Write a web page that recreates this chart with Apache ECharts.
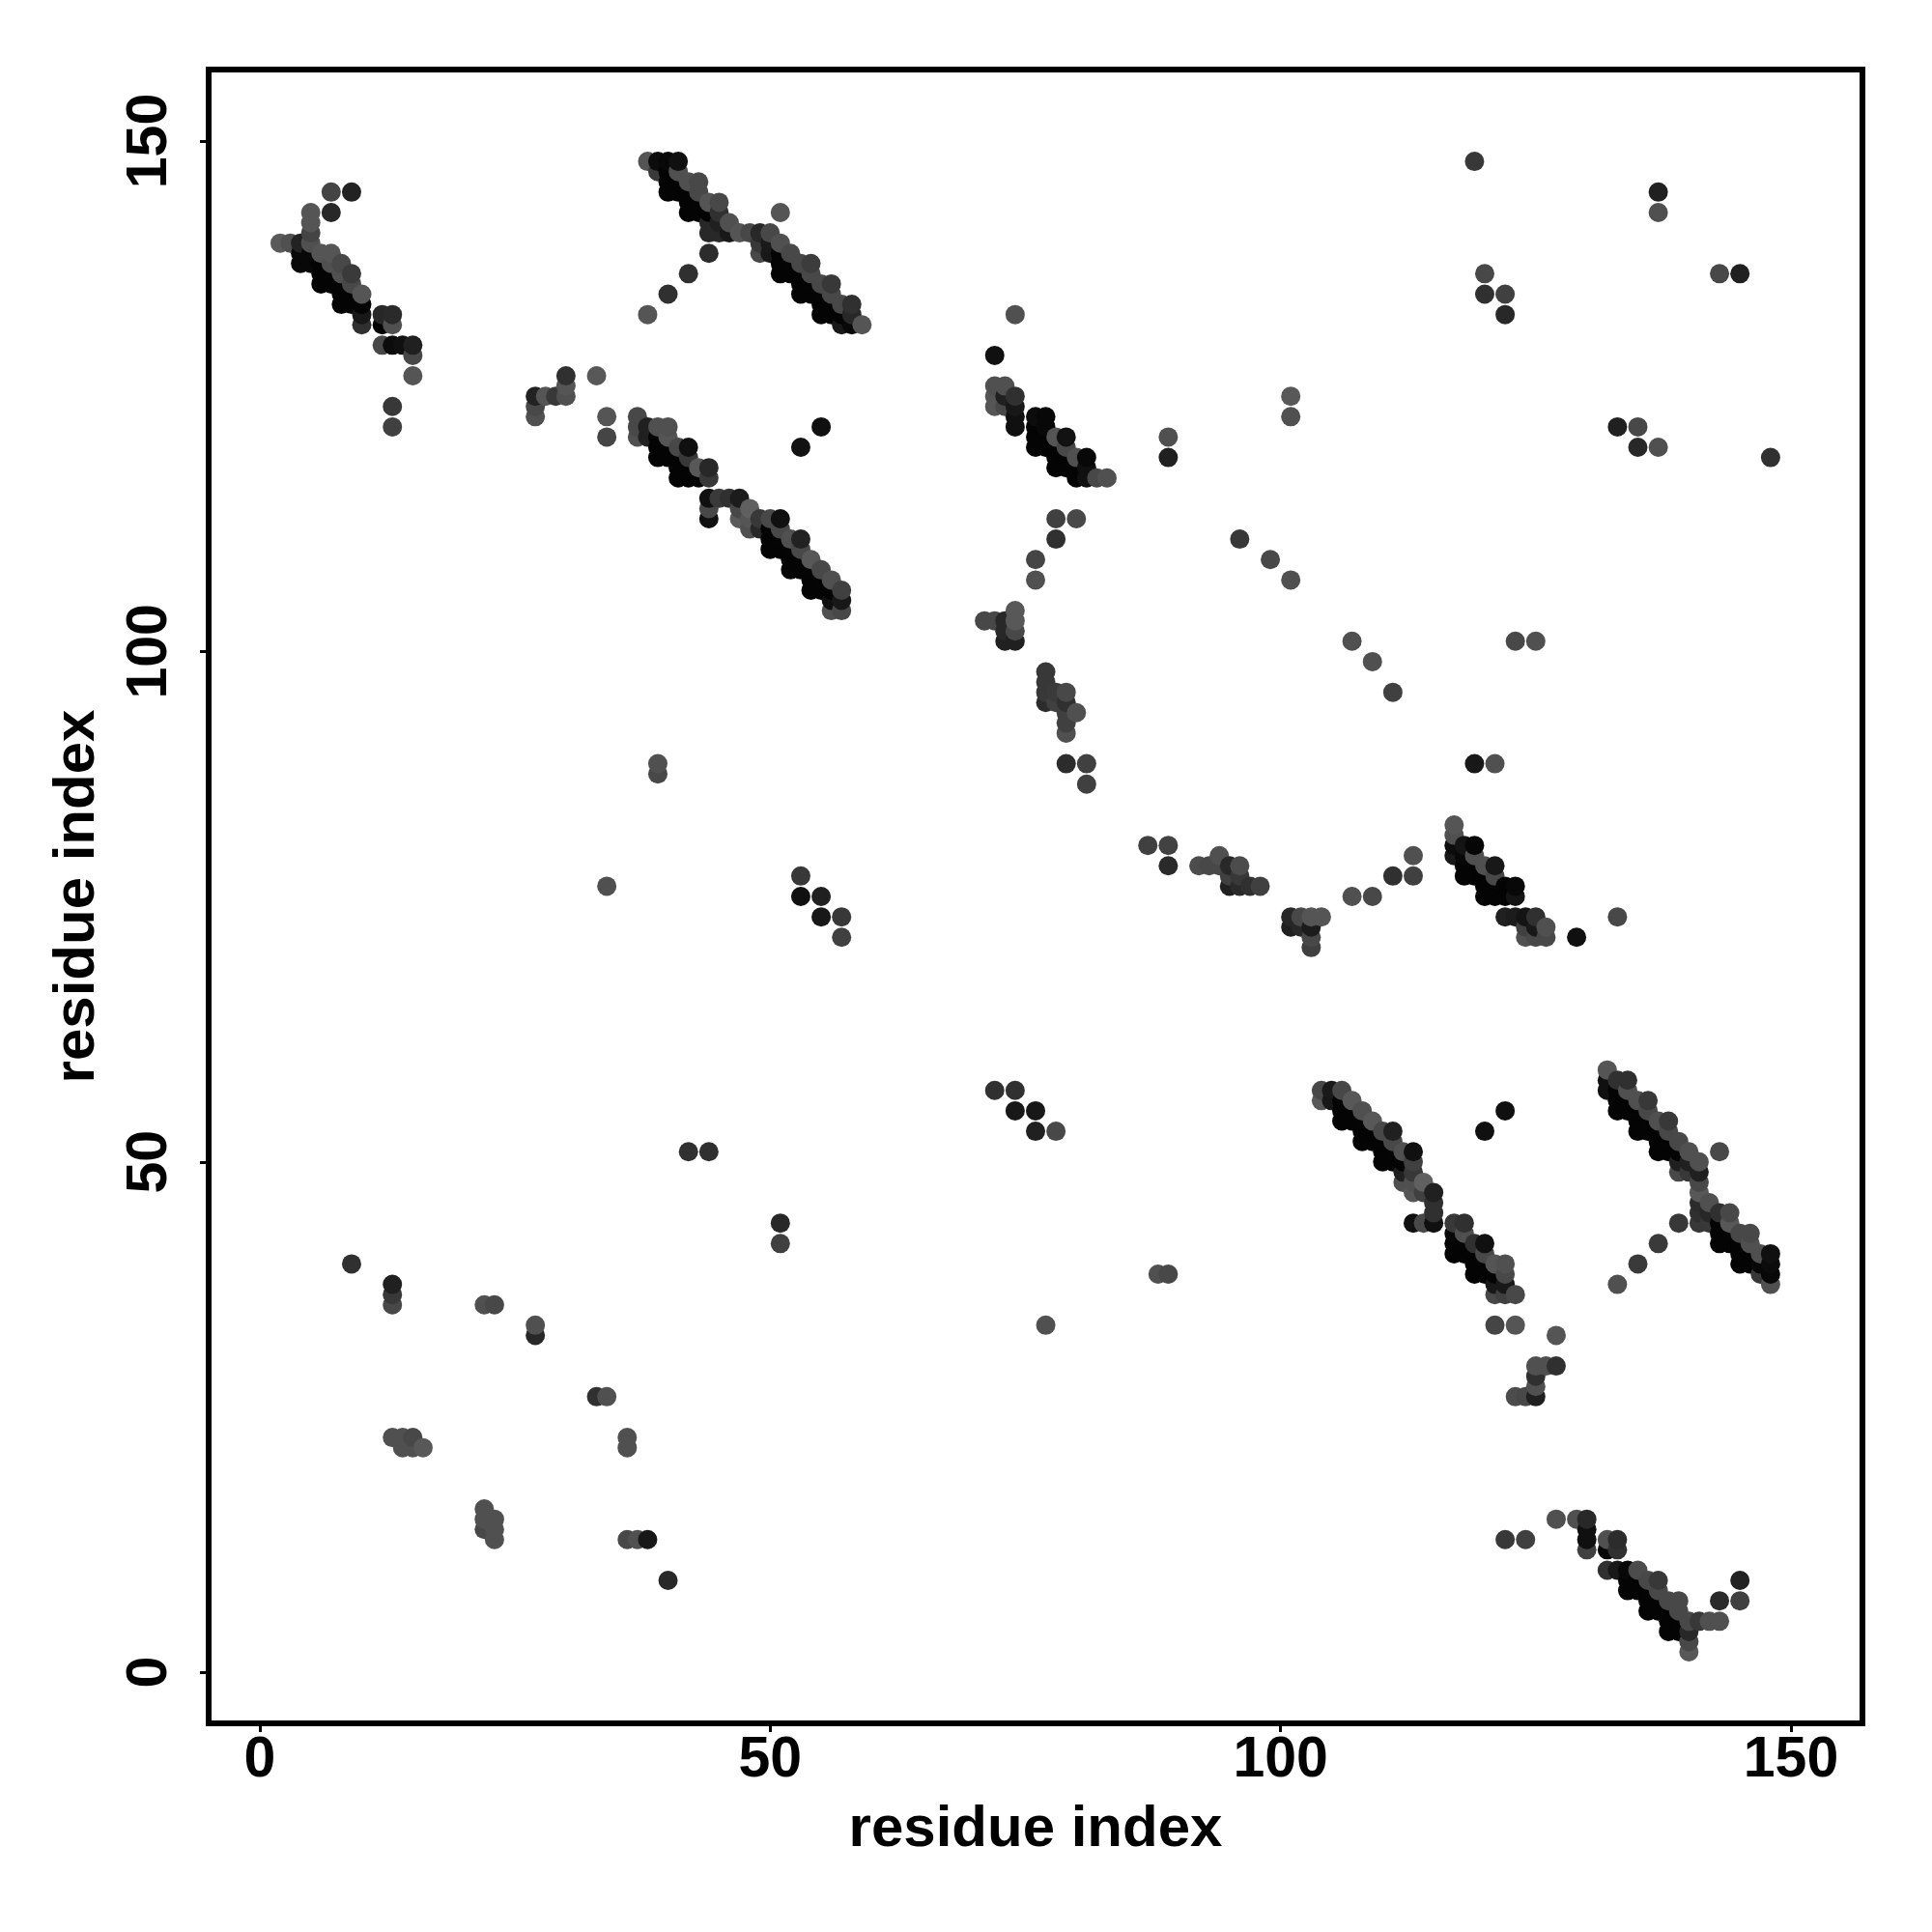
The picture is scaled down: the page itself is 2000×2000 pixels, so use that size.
<!DOCTYPE html>
<html><head><meta charset="utf-8">
<style>html,body{margin:0;padding:0;background:#fff}#c{width:2000px;height:2000px}</style>
<script src="https://cdn.jsdelivr.net/npm/echarts@6/dist/echarts.min.js"></script>
</head><body><div id="c"></div>
<script>
// contacts as [residue i, residue j, grey level]
const tickValues = [0, 50, 100, 150];
const axisTitle = 'residue index';
const bandTopLeft = [
[7,145,0x44],[9,145,0x22],[7,143,0x28],[5,143,0x55],[5,142,0x55],[5,141,0x44],[2,140,0x5a],[3,140,0x50],[4,140,0x22],[5,140,0x50],
[4,139,8],[4,138,8],[5,139,8],[5,138,8],[6,139,0x55],[7,139,0x55],[6,138,4],[6,137,4],[6,136,4],[7,138,0x50],[7,137,4],[8,138,0x48],[8,137,0x50],[9,137,0x3a],[9,136,0x48],[10,135,0x55],
[7,136,4],[8,136,4],[8,135,4],[8,134,4],[9,135,4],[9,134,4],[10,134,4],[10,133,0x18],[10,132,0x30],[12,133,0x28],[13,133,0x2a],[12,132,4],[13,132,0x50],
[12,130,0x48],[13,130,0x0c],[14,130,0x10],[15,130,0x20],[15,129,0x48],[15,127,0x55],[13,124,0x38],[13,122,0x40]
];
const bandMidLeft = [
[27,125,0x22],[27,124,0x48],[27,123,0x50],[28,125,0x55],[29,125,0x38],[30,125,0x50],[30,126,0x55],[30,127,0x30],[33,127,0x58],[34,123,0x55],[34,121,0x45],
[37,123,0x48],[37,122,0x48],[37,121,0x50],[38,122,0x20],[38,121,0x20],[39,122,0x50],[40,122,0x50],[39,121,4],[39,120,4],[39,119,4],[40,121,0x55],[40,120,4],[40,119,4],
[41,120,0x48],[42,120,0x10],[41,119,4],[41,118,4],[41,117,4],[42,119,0x38],[42,118,4],[42,117,4],[43,118,0x58],[44,118,0x28],[43,117,4],[44,117,0x38],
[44,115,0x10],[44,114,0x48],[44,113,0x10],[45,115,0x3a],[46,115,0x30],[47,115,0x1c],[47,114,0x48],[47,113,0x5a],[48,114,0x60],[48,113,0x55],[48,112,0x50],[49,113,0x38],[49,112,0x28],
[50,113,0x48],[50,112,4],[50,111,4],[50,110,4],[51,113,0x10],[51,112,0x48],[51,111,4],[51,110,4],[52,111,0x50],[53,111,0x22],[52,110,4],[52,109,4],[52,108,4],[53,110,0x48],[53,109,4],[53,108,4],
[54,109,0x58],[55,108,0x48],[54,108,4],[54,107,4],[54,106,4],[55,107,4],[55,106,4],[56,107,0x50],[57,106,0x40],[56,106,4],[56,105,0x10],[57,105,0x18],[56,104,0x50],[57,104,0x48],[55,122,0x10],[53,120,0x12]
];
const bandTopMid = [
[38,148,0x55],[39,148,0x0c],[40,148,8],[41,148,0x10],[39,147,0x3a],[40,147,4],[41,147,0x50],[40,146,4],[40,145,4],[41,146,4],[41,145,4],[42,146,0x50],[43,146,0x48],[42,145,4],[43,145,0x48],
[42,144,4],[42,143,4],[43,144,4],[43,143,4],[44,144,0x55],[45,144,0x48],[44,143,4],[45,143,0x30],[46,142,0x50],[44,142,0x28],[44,141,0x28],[45,142,0x20],[45,141,0x28],[46,141,0x18],
[47,141,0x55],[48,141,0x48],[49,141,0x28],[50,141,0x48],[49,140,0x38],[49,139,0x48],[50,140,0x1a],[50,139,0x18],[51,140,0x50],[51,143,0x55],[52,139,0x48],[51,139,4],[51,138,4],[51,137,4],[52,138,4],[52,137,4],
[53,138,0x48],[54,138,0x3c],[53,137,4],[54,137,0x48],[53,136,4],[53,135,4],[54,136,4],[54,135,4],[55,136,0x48],[56,136,0x38],[55,135,4],[56,135,0x48],[55,134,4],[55,133,4],[56,134,4],[56,133,4],
[57,134,0x48],[58,134,0x30],[57,133,4],[58,133,0x28],[57,132,0x18],[58,132,8],[59,132,0x55],[44,139,0x2c],[42,137,0x30],[40,135,0x30],[38,133,0x55]
];
const bandUpperCentre = [
[72,129,0x10],[72,126,0x50],[72,125,0x55],[72,124,0x55],[73,126,0x50],[73,125,0x20],[73,124,0x48],[74,125,0x30],[74,124,0x18],[74,123,0x10],[74,122,0x10],
[76,123,0x0c],[77,123,8],[76,122,4],[76,121,4],[76,120,4],[77,122,8],[77,121,4],[77,120,4],[78,121,0x55],[79,121,0x12],[78,120,4],[78,119,4],[78,118,4],[79,120,0x48],[79,119,4],[79,118,4],
[80,119,0x50],[80,118,4],[80,117,4],[81,119,8],[81,118,0x10],[81,117,0x10],[82,117,0x48],[83,117,0x50],[78,113,0x40],[80,113,0x48],[78,111,0x30],[76,109,0x45],[76,107,0x50],
[71,103,0x48],[72,103,0x48],[73,103,0x28],[74,104,0x58],[74,103,0x58],[74,102,0x48],[73,102,0x28],[73,101,0x20],[74,101,0x20],
[77,98,0x38],[77,97,0x38],[77,96,0x38],[77,95,0x2c],[78,96,0x3a],[78,95,0x40],[79,96,0x48],[79,95,0x30],[79,94,0x40],[79,93,0x40],[79,92,0x50],[80,94,0x50],[79,89,0x2c],[81,89,0x40],[81,87,0x40]
];
const bandCentre = [
[87,81,0x40],[89,81,0x42],[89,79,0x2a],[92,79,0x4c],[93,79,0x48],[94,80,0x50],[94,79,0x48],[95,79,0x28],[96,79,0x4c],[95,78,0x40],[96,78,0x38],[95,77,0x20],[96,77,0x2a],[97,77,0x30],[98,77,0x40],
[101,74,0x28],[102,74,0x48],[103,74,0x55],[104,74,0x55],[101,73,0x20],[102,73,0x28],[103,73,0x1c],[103,72,0x48],[103,71,0x40],
[107,76,0x50],[109,76,0x48],[111,78,0x30],[113,78,0x40],[113,80,0x50]
];
const bandCentreRight = [
[117,83,0x55],[117,82,0x50],[117,81,0x0c],[117,80,0x18],[118,81,0x14],[119,81,6],[118,80,8],[118,79,4],[118,78,4],[119,80,0x50],[119,79,4],[119,78,4],
[120,79,0x50],[121,79,0x18],[120,78,4],[120,77,4],[120,76,4],[121,78,0x48],[121,77,4],[121,76,4],[122,77,4],[122,76,4],[123,77,8],[123,76,0x14],
[122,74,0x20],[123,74,0x1c],[124,74,0x14],[125,74,0x30],[124,73,0x40],[124,72,0x50],[125,73,0x18],[125,72,0x48],[126,73,0x50],[126,72,0x48],[129,72,0x10],[133,74,0x48]
];
const bandLowerRight = [
[104,57,0x48],[104,56,0x58],[105,57,0x1a],[105,56,0x18],[106,57,0x48],[106,56,4],[106,55,4],[106,54,4],[107,56,0x58],[107,55,4],[107,54,4],[108,55,0x50],[108,54,4],[108,53,4],[108,52,4],
[109,54,0x58],[109,53,4],[109,52,4],[110,53,0x48],[111,53,0x20],[110,52,4],[110,51,4],[110,50,4],[111,52,0x48],[111,51,4],[111,50,4],[112,51,0x50],[113,51,0x10],[112,50,4],[113,50,0x40],[113,49,0x38],[112,49,0x20],
[112,48,0x50],[113,48,0x50],[114,48,0x60],[113,47,0x55],[114,47,0x40],[115,47,0x20],[115,46,0x30],[115,45,0x30],[115,44,0x10],[113,44,0x10],[114,44,0x48],
[117,44,0x38],[118,44,0x30],[117,43,8],[117,42,4],[117,41,4],[118,43,0x50],[118,42,4],[118,41,4],[119,42,0x30],[120,42,0x10],[119,41,4],[119,40,4],[119,39,4],[120,41,0x48],[120,40,4],[120,39,4],
[121,40,0x55],[122,40,0x50],[121,39,4],[121,38,0x18],[121,37,0x48],[122,39,0x48],[122,38,0x18],[122,37,0x40],[123,37,0x48],[121,34,0x45],[123,34,0x55],[120,53,0x10],[122,55,0x10],
[127,33,0x55],[125,30,0x50],[126,30,0x50],[127,30,0x30],[125,29,0x30],[125,28,0x50],[125,27,0x20],[123,27,0x4c],[124,27,0x48]
];
const bandFarRight = [
[132,59,0x55],[132,58,0x10],[132,57,0x10],[133,58,0x30],[134,58,0x30],[133,57,4],[133,56,4],[133,55,4],[134,57,0x50],[134,56,4],[134,55,4],[135,56,0x50],[136,56,0x38],[135,55,4],[135,54,4],[135,53,4],[136,55,0x48],[136,54,4],[136,53,4],
[137,54,0x50],[138,54,0x38],[137,53,4],[137,52,4],[137,51,4],[138,53,0x48],[138,52,4],[138,51,4],[139,52,0x48],[139,51,4],[140,51,0x50],[139,50,0x20],[139,49,0x48],[140,50,0x20],[140,49,0x38],
[141,50,0x50],[141,49,0x20],[141,48,0x48],[141,47,0x58],[142,46,0x50],[141,46,0x2c],[141,45,0x30],[141,44,0x38],[142,45,0x28],[142,44,0x38],[143,51,0x48],
[143,45,0x30],[144,45,0x48],[143,44,4],[143,43,4],[143,42,4],[144,44,0x58],[144,43,4],[144,42,4],[145,43,0x48],[146,43,0x48],[145,42,4],[145,41,4],[145,40,4],[146,42,0x50],[146,41,4],[146,40,4],
[147,41,0x50],[147,40,8],[147,39,0x38],[148,41,0x10],[148,40,0x0c],[148,39,8],[148,38,0x50],[139,44,0x38],[137,42,0x3a],[135,40,0x3a],[133,38,0x50]
];
const bandBottomRight = [
[127,15,0x50],[129,15,0x50],[130,15,0x28],[130,14,0x10],[130,13,0x10],[130,12,0x40],[132,13,0x50],[133,13,0x2c],[132,12,8],[133,12,0x30],
[132,10,0x30],[133,10,0x18],[134,10,8],[135,10,0x4c],[134,9,4],[134,8,4],[135,9,4],[135,8,4],[136,9,0x48],[137,9,0x38],[136,8,4],[136,7,4],[136,6,4],[137,8,0x48],[137,7,4],[137,6,4],
[138,7,0x48],[139,7,0x48],[138,6,4],[138,5,4],[138,4,4],[139,6,0x48],[139,5,4],[139,4,4],[140,5,0x48],[141,5,0x38],[142,5,0x50],[143,5,0x50],[140,4,0x28],[140,3,0x48],[140,2,0x58],[143,7,0x2a],[145,7,0x40],[145,9,0x22]
];
const isolated = [
[119,148,0x38],[137,145,0x20],[137,143,0x50],[120,137,0x48],[120,135,0x30],[122,135,0x40],[122,133,0x28],[143,137,0x48],[145,137,0x20],[74,133,0x50],
[89,121,0x50],[89,119,0x20],[101,125,0x58],[101,123,0x50],[133,122,0x20],[135,122,0x48],[135,120,0x28],[137,120,0x50],[148,119,0x30],
[96,111,0x38],[99,109,0x48],[101,107,0x50],[107,101,0x50],[109,99,0x50],[111,96,0x40],[123,101,0x48],[125,101,0x50],[119,89,0x18],[121,89,0x50],
[39,89,0x50],[39,88,0x48],[34,77,0x50],[53,78,0x38],[53,76,0x10],[55,76,0x20],[55,74,0x18],[57,74,0x38],[57,72,0x40],
[72,57,0x30],[74,57,0x30],[74,55,0x18],[76,55,0x18],[76,53,0x20],[78,53,0x48],[42,51,0x30],[44,51,0x30],[51,44,0x28],[51,42,0x40],
[9,40,0x30],[13,38,0x20],[13,37,0x38],[13,36,0x48],[22,36,0x50],[23,36,0x48],[27,34,0x50],[27,33,0x28],[77,34,0x50],[88,39,0x50],[89,39,0x48],
[33,27,0x30],[34,27,0x50],[36,23,0x50],[36,22,0x50],[13,23,0x50],[14,23,0x50],[15,23,0x48],[14,22,0x50],[15,22,0x50],[16,22,0x58],
[22,16,0x50],[22,15,0x50],[23,15,0x50],[22,14,0x48],[23,14,0x50],[23,13,0x50],[36,13,0x48],[37,13,0x50],[38,13,0x18],[40,9,0x28],[122,13,0x38],[124,13,0x40]
];
const contacts = [].concat(bandTopLeft,bandMidLeft,bandTopMid,bandUpperCentre,bandCentre,bandCentreRight,bandLowerRight,bandFarRight,bandBottomRight,isolated)
  .sort((a,b)=>a[0]-b[0]||a[1]-b[1]);

const font = '"Liberation Sans", Arial, sans-serif';
function axis(extra){
  return Object.assign({
    type:'value', min:-5, max:157, splitLine:{show:false},
    name:axisTitle, nameLocation:'middle',
    nameTextStyle:{fontFamily:font,fontWeight:'bold',fontSize:60,color:'#000'},
    axisLine:{show:false,onZero:false},
    axisTick:{show:true,inside:false,length:9,lineStyle:{width:3,color:'#000'},customValues:tickValues},
  },extra);
}
const chart = echarts.init(document.getElementById('c'),null,{renderer:'canvas'});
chart.setOption({
  animation:false, backgroundColor:'#fff',
  grid:{show:true,left:216,right:72,top:72,bottom:216,borderColor:'#000',borderWidth:6,backgroundColor:'transparent'},
  xAxis:axis({nameGap:80,axisLabel:{customValues:tickValues,fontFamily:font,fontWeight:'bold',fontSize:59,color:'#000',margin:9}}),
  yAxis:axis({nameGap:106,axisLabel:{customValues:tickValues,rotate:90,fontFamily:font,fontWeight:'bold',fontSize:59,color:'#000',margin:31}}),
  series:[{type:'scatter',symbol:'circle',symbolSize:20,data:contacts,silent:true,
    itemStyle:{opacity:1,color:p=>{const g=p.value[2];return 'rgb('+g+','+g+','+g+')';}}}]
});
</script></body></html>
